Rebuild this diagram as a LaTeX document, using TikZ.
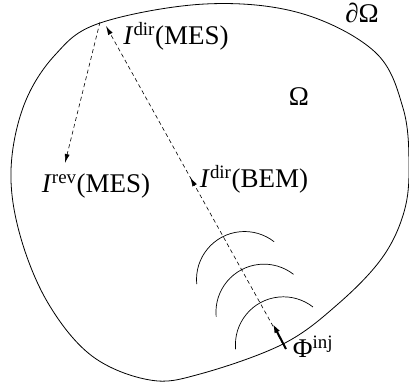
\documentclass[tikz,border=0pt]{standalone}
\usepackage{fontspec}
\setmainfont{Liberation Serif}
\usetikzlibrary{positioning}
\usetikzlibrary{calc}
\usetikzlibrary{arrows.meta}
\usetikzlibrary{decorations.markings}
\tikzset{ray/.style = {dashed, dash pattern=on 4pt off 3pt, line width=.6pt}}
\tikzset{midtip/.style = {decoration={markings,
                                      mark=at position 0.525
                                      with {\arrow{Latex[length=9pt,width=5pt]}}},
                          postaction={decorate}}}
\tikzset{lbl/.style = {inner sep=0pt, font=\fontsize{27}{31}\selectfont}}
\newcommand{\wavefront}[1]{\draw[line width=.7pt] (#1) ++(174.6:48) arc[start angle=174.6, end angle=308, radius=48];}

\begin{document}
\begin{tikzpicture}[x=1pt, y=-1pt]
      \useasboundingbox (0,0) rectangle (409,384);

      % boundary of the domain
      \draw[line width=.8pt] plot[smooth cycle, tension=.6] coordinates {
        (100,23) (205,4) (300,13) (375,52) (403,108) (409,165) (404,212)
        (382,258) (338,304) (283,344) (200,374) (150,380) (92,356) (48,303)
        (20,235) (11,170) (24,105) (55,55)};

      \coordinate (src) at (283.4,344.8);
      \coordinate (srctail) at (286,349);
      \coordinate (srchead) at (273,324);
      \coordinate (mesdir) at (106,26);
      \coordinate (mesrev) at (100,22);
      \coordinate (revend) at (65,163);

      % fronts
      \foreach \k in {0,1,2} {
        \wavefront{$(src)+\k*(-19.45,-32.65)$}
      }

      \draw[ray, midtip, -{Latex[length=9pt,width=5pt]}] (src) -- (mesdir);
      \draw[ray, -{Latex[length=9pt,width=5pt]}] (mesrev) -- (revend);
      \draw[line width=2pt, -{Latex[length=9pt,width=6pt]}] (srctail) -- (srchead);

      \node[lbl] (omegab) at (362,13) {∂Ω};
      \node[lbl] (omega) at (299,97) {Ω};
      \node[lbl] (idirmes) at (176,36) {\textit{I}\textsuperscript{dir}(MES)};
      \node[lbl] (irevmes) at (96,186) {\textit{I}\textsuperscript{rev}(MES)};
      \node[lbl] (idirbem) at (254,179) {\textit{I}\textsuperscript{dir}(BEM)};
      \node[lbl] (phiinj) at (313,347) {Φ\textsuperscript{inj}};
    \end{tikzpicture}
\end{document}
